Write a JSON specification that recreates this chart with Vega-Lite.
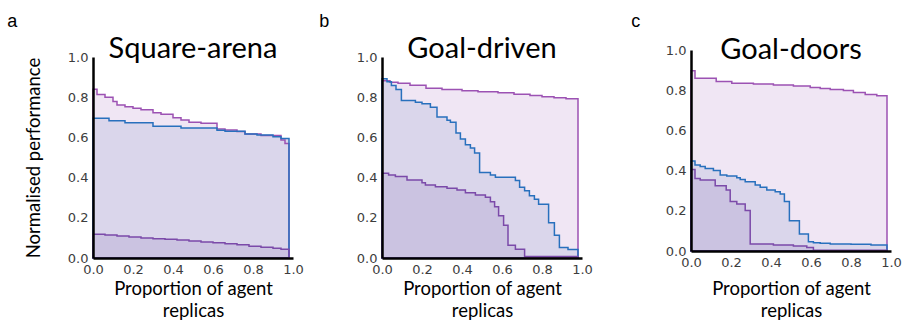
{
  "$schema": "https://vega.github.io/schema/vega-lite/v6.json",
  "padding": {"left": 7, "top": 13, "right": 5, "bottom": 0},
  "config": {
    "view": {"stroke": null},
    "axis": {"domainColor": "black", "domainWidth": 2.5, "ticks": false, "grid": false, "labelFont": "DejaVu Sans", "labelFontSize": 13, "labelColor": "#3d3d3d", "labelPadding": 5, "labelFlush": false, "labelOverlap": false, "titleFont": "Lato", "titleFontSize": 18.5, "titleFontWeight": "normal", "titleColor": "black"},
    "title": {"font": "Lato", "fontWeight": "normal", "color": "black"}
  },
  "datasets": {
    "curves": [
      {"panel": "a", "series": "A", "x": 0, "y": 0.839},
      {"panel": "a", "series": "A", "x": 0.02, "y": 0.813},
      {"panel": "a", "series": "A", "x": 0.06, "y": 0.8},
      {"panel": "a", "series": "A", "x": 0.1, "y": 0.778},
      {"panel": "a", "series": "A", "x": 0.12, "y": 0.761},
      {"panel": "a", "series": "A", "x": 0.16, "y": 0.753},
      {"panel": "a", "series": "A", "x": 0.2, "y": 0.745},
      {"panel": "a", "series": "A", "x": 0.24, "y": 0.737},
      {"panel": "a", "series": "A", "x": 0.3, "y": 0.723},
      {"panel": "a", "series": "A", "x": 0.34, "y": 0.715},
      {"panel": "a", "series": "A", "x": 0.4, "y": 0.698},
      {"panel": "a", "series": "A", "x": 0.44, "y": 0.686},
      {"panel": "a", "series": "A", "x": 0.48, "y": 0.675},
      {"panel": "a", "series": "A", "x": 0.54, "y": 0.67},
      {"panel": "a", "series": "A", "x": 0.62, "y": 0.642},
      {"panel": "a", "series": "A", "x": 0.66, "y": 0.637},
      {"panel": "a", "series": "A", "x": 0.72, "y": 0.629},
      {"panel": "a", "series": "A", "x": 0.76, "y": 0.617},
      {"panel": "a", "series": "A", "x": 0.84, "y": 0.609},
      {"panel": "a", "series": "A", "x": 0.94, "y": 0.587},
      {"panel": "a", "series": "A", "x": 0.96, "y": 0.57},
      {"panel": "a", "series": "A", "x": 0.98, "y": 0.57},
      {"panel": "a", "series": "B", "x": 0, "y": 0.695},
      {"panel": "a", "series": "B", "x": 0.08, "y": 0.683},
      {"panel": "a", "series": "B", "x": 0.16, "y": 0.673},
      {"panel": "a", "series": "B", "x": 0.3, "y": 0.656},
      {"panel": "a", "series": "B", "x": 0.44, "y": 0.647},
      {"panel": "a", "series": "B", "x": 0.62, "y": 0.635},
      {"panel": "a", "series": "B", "x": 0.66, "y": 0.63},
      {"panel": "a", "series": "B", "x": 0.76, "y": 0.617},
      {"panel": "a", "series": "B", "x": 0.82, "y": 0.612},
      {"panel": "a", "series": "B", "x": 0.9, "y": 0.603},
      {"panel": "a", "series": "B", "x": 0.94, "y": 0.595},
      {"panel": "a", "series": "B", "x": 0.98, "y": 0.585},
      {"panel": "a", "series": "C", "x": 0, "y": 0.118},
      {"panel": "a", "series": "C", "x": 0.06, "y": 0.115},
      {"panel": "a", "series": "C", "x": 0.12, "y": 0.11},
      {"panel": "a", "series": "C", "x": 0.18, "y": 0.105},
      {"panel": "a", "series": "C", "x": 0.24, "y": 0.099},
      {"panel": "a", "series": "C", "x": 0.3, "y": 0.096},
      {"panel": "a", "series": "C", "x": 0.36, "y": 0.093},
      {"panel": "a", "series": "C", "x": 0.42, "y": 0.089},
      {"panel": "a", "series": "C", "x": 0.48, "y": 0.085},
      {"panel": "a", "series": "C", "x": 0.54, "y": 0.08},
      {"panel": "a", "series": "C", "x": 0.6, "y": 0.076},
      {"panel": "a", "series": "C", "x": 0.66, "y": 0.071},
      {"panel": "a", "series": "C", "x": 0.72, "y": 0.066},
      {"panel": "a", "series": "C", "x": 0.78, "y": 0.058},
      {"panel": "a", "series": "C", "x": 0.84, "y": 0.054},
      {"panel": "a", "series": "C", "x": 0.9, "y": 0.048},
      {"panel": "a", "series": "C", "x": 0.94, "y": 0.044},
      {"panel": "a", "series": "C", "x": 0.98, "y": 0.04},
      {"panel": "b", "series": "A", "x": 0, "y": 0.882},
      {"panel": "b", "series": "A", "x": 0.04, "y": 0.875},
      {"panel": "b", "series": "A", "x": 0.08, "y": 0.87},
      {"panel": "b", "series": "A", "x": 0.14, "y": 0.86},
      {"panel": "b", "series": "A", "x": 0.22, "y": 0.845},
      {"panel": "b", "series": "A", "x": 0.3, "y": 0.838},
      {"panel": "b", "series": "A", "x": 0.4, "y": 0.832},
      {"panel": "b", "series": "A", "x": 0.48, "y": 0.827},
      {"panel": "b", "series": "A", "x": 0.58, "y": 0.822},
      {"panel": "b", "series": "A", "x": 0.66, "y": 0.815},
      {"panel": "b", "series": "A", "x": 0.74, "y": 0.808},
      {"panel": "b", "series": "A", "x": 0.8, "y": 0.802},
      {"panel": "b", "series": "A", "x": 0.86, "y": 0.797},
      {"panel": "b", "series": "A", "x": 0.92, "y": 0.792},
      {"panel": "b", "series": "A", "x": 0.98, "y": 0.788},
      {"panel": "b", "series": "B", "x": 0, "y": 0.892},
      {"panel": "b", "series": "B", "x": 0.025, "y": 0.877},
      {"panel": "b", "series": "B", "x": 0.047, "y": 0.858},
      {"panel": "b", "series": "B", "x": 0.07, "y": 0.838},
      {"panel": "b", "series": "B", "x": 0.097, "y": 0.783},
      {"panel": "b", "series": "B", "x": 0.167, "y": 0.775},
      {"panel": "b", "series": "B", "x": 0.2, "y": 0.767},
      {"panel": "b", "series": "B", "x": 0.242, "y": 0.75},
      {"panel": "b", "series": "B", "x": 0.275, "y": 0.702},
      {"panel": "b", "series": "B", "x": 0.325, "y": 0.685},
      {"panel": "b", "series": "B", "x": 0.342, "y": 0.675},
      {"panel": "b", "series": "B", "x": 0.37, "y": 0.622},
      {"panel": "b", "series": "B", "x": 0.392, "y": 0.592},
      {"panel": "b", "series": "B", "x": 0.417, "y": 0.563},
      {"panel": "b", "series": "B", "x": 0.442, "y": 0.547},
      {"panel": "b", "series": "B", "x": 0.463, "y": 0.522},
      {"panel": "b", "series": "B", "x": 0.488, "y": 0.425},
      {"panel": "b", "series": "B", "x": 0.542, "y": 0.413},
      {"panel": "b", "series": "B", "x": 0.567, "y": 0.402},
      {"panel": "b", "series": "B", "x": 0.667, "y": 0.385},
      {"panel": "b", "series": "B", "x": 0.688, "y": 0.352},
      {"panel": "b", "series": "B", "x": 0.713, "y": 0.335},
      {"panel": "b", "series": "B", "x": 0.737, "y": 0.31},
      {"panel": "b", "series": "B", "x": 0.762, "y": 0.292},
      {"panel": "b", "series": "B", "x": 0.783, "y": 0.268},
      {"panel": "b", "series": "B", "x": 0.833, "y": 0.175},
      {"panel": "b", "series": "B", "x": 0.862, "y": 0.113},
      {"panel": "b", "series": "B", "x": 0.887, "y": 0.052},
      {"panel": "b", "series": "B", "x": 0.93, "y": 0.042},
      {"panel": "b", "series": "B", "x": 0.98, "y": 0.042},
      {"panel": "b", "series": "C", "x": 0, "y": 0.422},
      {"panel": "b", "series": "C", "x": 0.033, "y": 0.413},
      {"panel": "b", "series": "C", "x": 0.067, "y": 0.405},
      {"panel": "b", "series": "C", "x": 0.125, "y": 0.388},
      {"panel": "b", "series": "C", "x": 0.2, "y": 0.375},
      {"panel": "b", "series": "C", "x": 0.217, "y": 0.363},
      {"panel": "b", "series": "C", "x": 0.267, "y": 0.355},
      {"panel": "b", "series": "C", "x": 0.325, "y": 0.347},
      {"panel": "b", "series": "C", "x": 0.375, "y": 0.338},
      {"panel": "b", "series": "C", "x": 0.417, "y": 0.325},
      {"panel": "b", "series": "C", "x": 0.467, "y": 0.313},
      {"panel": "b", "series": "C", "x": 0.517, "y": 0.302},
      {"panel": "b", "series": "C", "x": 0.542, "y": 0.28},
      {"panel": "b", "series": "C", "x": 0.563, "y": 0.255},
      {"panel": "b", "series": "C", "x": 0.583, "y": 0.21},
      {"panel": "b", "series": "C", "x": 0.608, "y": 0.163},
      {"panel": "b", "series": "C", "x": 0.63, "y": 0.063},
      {"panel": "b", "series": "C", "x": 0.667, "y": 0.043},
      {"panel": "b", "series": "C", "x": 0.713, "y": 0.008},
      {"panel": "b", "series": "C", "x": 0.98, "y": 0.005},
      {"panel": "c", "series": "A", "x": 0, "y": 0.897},
      {"panel": "c", "series": "A", "x": 0.02, "y": 0.859},
      {"panel": "c", "series": "A", "x": 0.126, "y": 0.843},
      {"panel": "c", "series": "A", "x": 0.204, "y": 0.834},
      {"panel": "c", "series": "A", "x": 0.312, "y": 0.831},
      {"panel": "c", "series": "A", "x": 0.412, "y": 0.826},
      {"panel": "c", "series": "A", "x": 0.512, "y": 0.821},
      {"panel": "c", "series": "A", "x": 0.596, "y": 0.814},
      {"panel": "c", "series": "A", "x": 0.646, "y": 0.809},
      {"panel": "c", "series": "A", "x": 0.696, "y": 0.804},
      {"panel": "c", "series": "A", "x": 0.762, "y": 0.798},
      {"panel": "c", "series": "A", "x": 0.812, "y": 0.788},
      {"panel": "c", "series": "A", "x": 0.871, "y": 0.779},
      {"panel": "c", "series": "A", "x": 0.929, "y": 0.773},
      {"panel": "c", "series": "A", "x": 0.98, "y": 0.773},
      {"panel": "c", "series": "B", "x": 0, "y": 0.448},
      {"panel": "c", "series": "B", "x": 0.02, "y": 0.428},
      {"panel": "c", "series": "B", "x": 0.046, "y": 0.42},
      {"panel": "c", "series": "B", "x": 0.071, "y": 0.411},
      {"panel": "c", "series": "B", "x": 0.112, "y": 0.4},
      {"panel": "c", "series": "B", "x": 0.146, "y": 0.378},
      {"panel": "c", "series": "B", "x": 0.179, "y": 0.373},
      {"panel": "c", "series": "B", "x": 0.229, "y": 0.365},
      {"panel": "c", "series": "B", "x": 0.246, "y": 0.356},
      {"panel": "c", "series": "B", "x": 0.271, "y": 0.345},
      {"panel": "c", "series": "B", "x": 0.321, "y": 0.328},
      {"panel": "c", "series": "B", "x": 0.346, "y": 0.317},
      {"panel": "c", "series": "B", "x": 0.379, "y": 0.303},
      {"panel": "c", "series": "B", "x": 0.421, "y": 0.295},
      {"panel": "c", "series": "B", "x": 0.446, "y": 0.284},
      {"panel": "c", "series": "B", "x": 0.467, "y": 0.246},
      {"panel": "c", "series": "B", "x": 0.492, "y": 0.151},
      {"panel": "c", "series": "B", "x": 0.542, "y": 0.085},
      {"panel": "c", "series": "B", "x": 0.587, "y": 0.046},
      {"panel": "c", "series": "B", "x": 0.612, "y": 0.041},
      {"panel": "c", "series": "B", "x": 0.646, "y": 0.038},
      {"panel": "c", "series": "B", "x": 0.696, "y": 0.035},
      {"panel": "c", "series": "B", "x": 0.8, "y": 0.033},
      {"panel": "c", "series": "B", "x": 0.9, "y": 0.03},
      {"panel": "c", "series": "B", "x": 0.98, "y": 0.025},
      {"panel": "c", "series": "C", "x": 0, "y": 0.406},
      {"panel": "c", "series": "C", "x": 0.02, "y": 0.361},
      {"panel": "c", "series": "C", "x": 0.046, "y": 0.353},
      {"panel": "c", "series": "C", "x": 0.121, "y": 0.325},
      {"panel": "c", "series": "C", "x": 0.176, "y": 0.303},
      {"panel": "c", "series": "C", "x": 0.196, "y": 0.246},
      {"panel": "c", "series": "C", "x": 0.229, "y": 0.234},
      {"panel": "c", "series": "C", "x": 0.271, "y": 0.201},
      {"panel": "c", "series": "C", "x": 0.296, "y": 0.035},
      {"panel": "c", "series": "C", "x": 0.412, "y": 0.03},
      {"panel": "c", "series": "C", "x": 0.512, "y": 0.025},
      {"panel": "c", "series": "C", "x": 0.579, "y": 0.018},
      {"panel": "c", "series": "C", "x": 0.612, "y": 0.004},
      {"panel": "c", "series": "C", "x": 0.98, "y": 0.003}
    ]
  },
  "spacing": 38,
  "hconcat": [
    {
      "spacing": 15,
      "hconcat": [
        {
          "title": {"text": "a", "anchor": "start", "frame": "bounds", "font": "Liberation Sans", "fontSize": 18, "fontWeight": "normal", "offset": 4, "dx": -17},
          "vconcat": [
            {
              "title": {"text": "Square-arena", "fontSize": 29, "offset": -14},
              "width": 200, "height": 208,
              "data": {"name": "curves"},
              "transform": [{"filter": "datum.panel === 'a'"}],
              "encoding": {
                "x": {"field": "x", "type": "quantitative", "scale": {"domain": [0, 1]}, "axis": {"zindex": 1, "values": [0, 0.2, 0.4, 0.6, 0.8, 1], "format": ".1f", "title": ["Proportion of agent", "replicas"], "titlePadding": 3, "titleLineHeight": 22}},
                "y": {"field": "y", "type": "quantitative", "stack": null, "scale": {"domain": [0, 1], "range": [208, 7]}, "axis": {"zindex": 1, "values": [0, 0.2, 0.4, 0.6, 0.8, 1], "format": ".1f", "title": "Normalised performance", "titlePadding": 24}}
              },
              "layer": [
                {"mark": {"type": "area", "interpolate": "step-after"}, "encoding": {"fill": {"field": "series", "type": "nominal", "scale": {"domain": ["A", "B", "C"], "range": ["#f0e6f4", "#dad6eb", "#cbc3e1"]}, "legend": null}}},
                {"mark": {"type": "area", "interpolate": "step-after", "fillOpacity": 0, "strokeWidth": 1.5}, "encoding": {"stroke": {"field": "series", "type": "nominal", "scale": {"domain": ["A", "B", "C"], "range": ["#9c52b3", "#2870bd", "#7b4aa9"]}, "legend": null}}}
              ]
            }
          ]
        },
        {
          "title": {"text": "b", "anchor": "start", "frame": "bounds", "font": "Liberation Sans", "fontSize": 18, "fontWeight": "normal", "offset": 4, "dx": -37},
          "vconcat": [
            {
              "title": {"text": "Goal-driven", "fontSize": 29, "offset": -14},
              "width": 200, "height": 208,
              "data": {"name": "curves"},
              "transform": [{"filter": "datum.panel === 'b'"}],
              "encoding": {
                "x": {"field": "x", "type": "quantitative", "scale": {"domain": [0, 1]}, "axis": {"zindex": 1, "values": [0, 0.2, 0.4, 0.6, 0.8, 1], "format": ".1f", "title": ["Proportion of agent", "replicas"], "titlePadding": 3, "titleLineHeight": 22}},
                "y": {"field": "y", "type": "quantitative", "stack": null, "scale": {"domain": [0, 1], "range": [208, 7]}, "axis": {"zindex": 1, "values": [0, 0.2, 0.4, 0.6, 0.8, 1], "format": ".1f", "title": null}}
              },
              "layer": [
                {"mark": {"type": "area", "interpolate": "step-after"}, "encoding": {"fill": {"field": "series", "type": "nominal", "scale": {"domain": ["A", "B", "C"], "range": ["#f0e6f4", "#dad6eb", "#cbc3e1"]}, "legend": null}}},
                {"mark": {"type": "area", "interpolate": "step-after", "fillOpacity": 0, "strokeWidth": 1.5}, "encoding": {"stroke": {"field": "series", "type": "nominal", "scale": {"domain": ["A", "B", "C"], "range": ["#9c52b3", "#2870bd", "#7b4aa9"]}, "legend": null}}}
              ]
            }
          ]
        }
      ]
    },
    {
      "title": {"text": "c", "anchor": "start", "frame": "bounds", "font": "Liberation Sans", "fontSize": 18, "fontWeight": "normal", "offset": 5, "dx": -34},
      "vconcat": [
        {
          "title": {"text": "Goal-doors", "fontSize": 29, "offset": -21},
          "width": 200, "height": 201,
          "data": {"name": "curves"},
          "transform": [{"filter": "datum.panel === 'c'"}],
          "encoding": {
            "x": {"field": "x", "type": "quantitative", "scale": {"domain": [0, 1]}, "axis": {"zindex": 1, "values": [0, 0.2, 0.4, 0.6, 0.8, 1], "format": ".1f", "title": ["Proportion of agent", "replicas"], "titlePadding": 10, "titleLineHeight": 22}},
            "y": {"field": "y", "type": "quantitative", "stack": null, "scale": {"domain": [0, 1]}, "axis": {"zindex": 1, "values": [0, 0.2, 0.4, 0.6, 0.8, 1], "format": ".1f", "title": null}}
          },
          "layer": [
            {"mark": {"type": "area", "interpolate": "step-after"}, "encoding": {"fill": {"field": "series", "type": "nominal", "scale": {"domain": ["A", "B", "C"], "range": ["#f0e6f4", "#dad6eb", "#cbc3e1"]}, "legend": null}}},
            {"mark": {"type": "area", "interpolate": "step-after", "fillOpacity": 0, "strokeWidth": 1.5}, "encoding": {"stroke": {"field": "series", "type": "nominal", "scale": {"domain": ["A", "B", "C"], "range": ["#9c52b3", "#2870bd", "#7b4aa9"]}, "legend": null}}}
          ]
        }
      ]
    }
  ]
}
